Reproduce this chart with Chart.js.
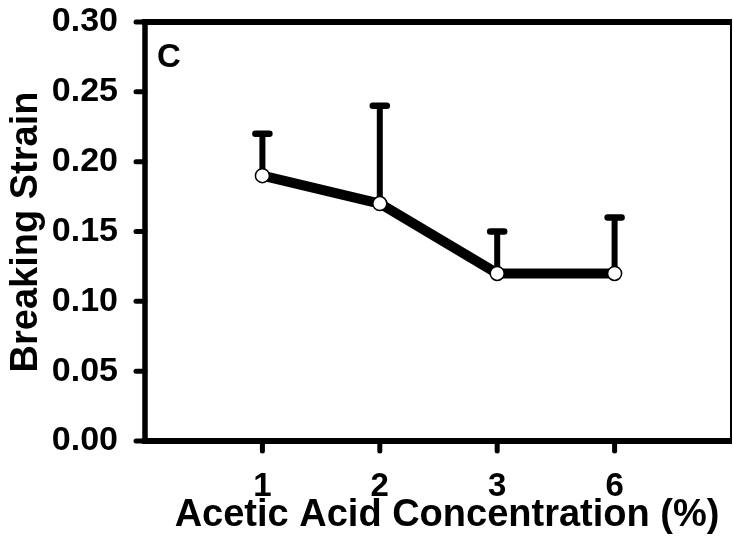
<!DOCTYPE html>
<html>
<head>
<meta charset="utf-8">
<script src="https://cdn.jsdelivr.net/npm/chart.js@4"></script>
<style>
  html, body { margin: 0; padding: 0; background: #fff; }
  #wrap { width: 733px; height: 543px; position: relative; }
</style>
</head>
<body>
<div id="wrap"><canvas id="strainChart"></canvas></div>
<script>
// data
const concLabels = ['1', '2', '3', '6'];
const breakingStrain = [0.19, 0.17, 0.12, 0.12];
const strainSD = [0.03, 0.07, 0.03, 0.04];
const yTickValues = [0, 0.05, 0.10, 0.15, 0.20, 0.25, 0.30];

const FONT = '"Liberation Sans", Arial, sans-serif';

// keep the plot box where the figure has it
function noPad(s) {
  s.paddingTop = 0;
  s.paddingBottom = 0;
  s.paddingLeft = 0;
  s.paddingRight = 0;
}

// frame, tick marks, error bars, titles
const figurePlugin = {
  id: 'figurePlugin',
  beforeDatasetsDraw(chart) {
    const { ctx, chartArea: a, scales: { x, y } } = chart;
    ctx.save();
    ctx.strokeStyle = '#000';
    ctx.lineCap = 'round';

    // tick marks
    ctx.lineWidth = 5;
    yTickValues.forEach(v => {
      const py = y.getPixelForValue(v);
      ctx.beginPath();
      ctx.moveTo(a.left, py);
      ctx.lineTo(a.left - 9, py);
      ctx.stroke();
    });
    concLabels.forEach((_, i) => {
      const px = x.getPixelForValue(i + 1);
      ctx.beginPath();
      ctx.moveTo(px, a.bottom);
      ctx.lineTo(px, a.bottom + 10);
      ctx.stroke();
    });

    // frame
    ctx.lineCap = 'butt';
    ctx.lineWidth = 2;
    ctx.beginPath();
    ctx.moveTo(a.right - 1, a.top);
    ctx.lineTo(a.right - 1, a.bottom);
    ctx.stroke();
    ctx.lineWidth = 6;
    ctx.beginPath();
    ctx.moveTo(a.left - 3, a.top);
    ctx.lineTo(a.right, a.top);
    ctx.moveTo(a.left - 3, a.bottom);
    ctx.lineTo(a.right, a.bottom);
    ctx.stroke();
    ctx.lineWidth = 5.5;
    ctx.beginPath();
    ctx.moveTo(a.left, a.top);
    ctx.lineTo(a.left, a.bottom);
    ctx.stroke();

    // upper error bars
    breakingStrain.forEach((v, i) => {
      const px = x.getPixelForValue(i + 1);
      const p0 = y.getPixelForValue(v);
      const p1 = y.getPixelForValue(v + strainSD[i]);
      ctx.lineCap = 'butt';
      ctx.lineWidth = 6;
      ctx.beginPath();
      ctx.moveTo(px, p0);
      ctx.lineTo(px, p1);
      ctx.stroke();
      ctx.lineCap = 'round';
      ctx.lineWidth = 6.5;
      ctx.beginPath();
      ctx.moveTo(px - 7, p1);
      ctx.lineTo(px + 7, p1);
      ctx.stroke();
    });
    ctx.restore();
  },
  afterDraw(chart) {
    const { ctx, chartArea: a } = chart;
    ctx.save();
    ctx.fillStyle = '#000';
    ctx.textBaseline = 'middle';
    ctx.textAlign = 'center';

    ctx.font = 'bold 38px ' + FONT;
    ctx.fillText('Acetic Acid Concentration (%)', 447, 516);

    ctx.translate(27, 232);
    ctx.rotate(-Math.PI / 2);
    ctx.font = 'bold 38px ' + FONT;
    ctx.fillText('Breaking Strain', 0, 0);
    ctx.restore();

    // panel letter
    ctx.save();
    ctx.font = 'bold 33px ' + FONT;
    ctx.textAlign = 'left';
    ctx.textBaseline = 'alphabetic';
    ctx.fillText('C', a.left + 12, 67);
    ctx.restore();
  }
};

const ctx = document.getElementById('strainChart').getContext('2d');
new Chart(ctx, {
  type: 'line',
  data: {
    datasets: [{
      data: breakingStrain.map((v, i) => ({ x: i + 1, y: v })),
      borderColor: '#000',
      borderWidth: 10,
      borderJoinStyle: 'round',
      pointRadius: 7,
      pointBorderWidth: 1.5,
      pointBackgroundColor: '#fff',
      pointBorderColor: '#000',
      tension: 0
    }]
  },
  options: {
    responsive: true,
    maintainAspectRatio: false,
    animation: false,
    layout: { autoPadding: false, padding: { top: 22, right: 1, left: 0, bottom: 0 } },
    plugins: { legend: { display: false }, tooltip: { enabled: false } },
    scales: {
      x: {
        type: 'linear',
        min: 0,
        max: 5,
        grid: { display: false, drawTicks: false },
        border: { display: false },
        afterBuildTicks: s => { s.ticks = concLabels.map((_, i) => ({ value: i + 1 })); },
        afterFit: s => { s.height = 102; noPad(s); },
        ticks: {
          padding: 26,
          maxRotation: 0,
          color: '#000',
          font: { family: FONT, size: 33, weight: 'bold' },
          callback: v => concLabels[v - 1]
        }
      },
      y: {
        min: 0,
        max: 0.3,
        grid: { display: false, drawTicks: false },
        border: { display: false },
        afterBuildTicks: s => { s.ticks = yTickValues.map(v => ({ value: v })); },
        afterFit: s => { s.width = 145; noPad(s); },
        ticks: {
          padding: 27,
          color: '#000',
          font: { family: FONT, size: 34, weight: 'bold' },
          callback: v => v.toFixed(2)
        }
      }
    }
  },
  plugins: [figurePlugin]
});
</script>
</body>
</html>
